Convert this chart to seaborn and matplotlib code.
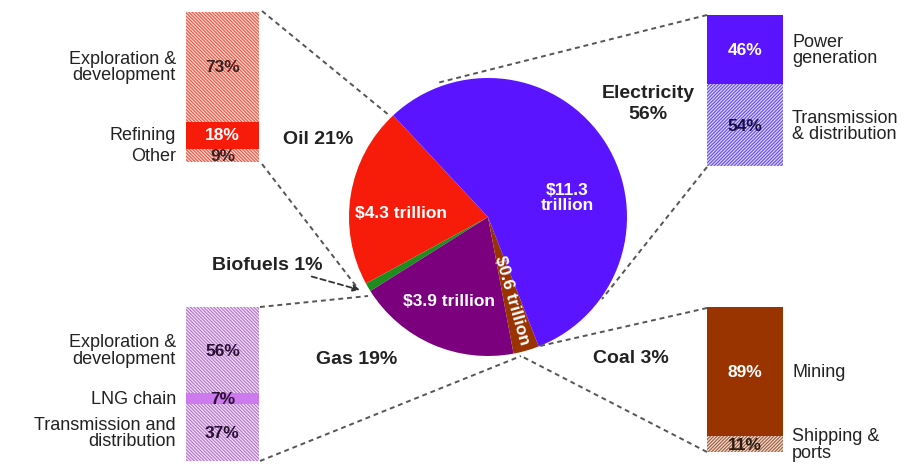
import numpy as np
import pandas as pd
import matplotlib
matplotlib.use("Agg")
import matplotlib.pyplot as plt
import seaborn as sns

# ---- data -------------------------------------------------------------
sectors = ["Oil", "Biofuels", "Gas", "Coal", "Electricity"]
sector_share = [21, 1, 19, 3, 56]
sector_value = ["$4.3 trillion", "", "$3.9 trillion", "$0.6 trillion", "$11.3\ntrillion"]
sector_colors = ["#F71C0A", "#1E8C1E", "#7A007E", "#993300", "#5A14FF"]

oil_parts = ["Exploration &\ndevelopment", "Refining", "Other"]
oil_share = [73, 18, 9]
elec_parts = ["Power\ngeneration", "Transmission\n& distribution"]
elec_share = [46, 54]
gas_parts = ["Exploration &\ndevelopment", "LNG chain", "Transmission and\ndistribution"]
gas_share = [56, 7, 37]
coal_parts = ["Mining", "Shipping &\nports"]
coal_share = [89, 11]

# ---- figure ------------------------------------------------------------
W, H = 907, 477
sns.set_theme(style="white")
plt.rcParams["font.family"] = ["Liberation Sans Narrow", "Liberation Sans", "DejaVu Sans"]
plt.rcParams["hatch.linewidth"] = 0.9

fig = plt.figure(figsize=(W / 100, H / 100), dpi=100)
fig.patch.set_facecolor("white")
ax = fig.add_axes([0, 0, 1, 1])


def Y(y):
    # image row -> axes y (y up)
    return H - y


cx, cy, r = 488, Y(218), 139
wedges, _ = ax.pie(sector_share, colors=sector_colors, startangle=133,
                   counterclock=True, center=(cx, cy), radius=r,
                   wedgeprops=dict(linewidth=0))
ax.set_xlim(0, W)
ax.set_ylim(0, H)
ax.set_aspect("equal")
ax.axis("off")

# values inside the wedges: (radius fraction, angle override or None, rotate)
inner_pos = {"Oil": (0.63, 177, False), "Gas": (0.66, 245, False),
             "Coal": (0.62, None, True), "Electricity": (0.59, 14, False)}
for w, name, val in zip(wedges, sectors, sector_value):
    if not val:
        continue
    frac, ang, rot = inner_pos[name]
    mid = (w.theta1 + w.theta2) / 2 if ang is None else ang
    x = cx + frac * r * np.cos(np.radians(mid))
    y = cy + frac * r * np.sin(np.radians(mid))
    ax.text(x, y, val, color="white", fontsize=12.5, fontweight="bold",
            ha="center", va="center", rotation=mid if rot else 0,
            rotation_mode="anchor", linespacing=1.0)

# sector labels round the pie
lab_kw = dict(fontsize=14, fontweight="bold", color="#222222", ha="center", va="center")
ax.text(318, Y(140), "Oil 21%", **lab_kw)
ax.text(648, Y(104), "Electricity\n56%", linespacing=1.3, **lab_kw)
ax.text(357, Y(360), "Gas 19%", **lab_kw)
ax.text(631, Y(359), "Coal 3%", **lab_kw)
ax.annotate("Biofuels 1%", xy=(360, Y(291)), xytext=(322, Y(265)),
            fontsize=14, fontweight="bold", color="#222222", ha="right", va="center",
            arrowprops=dict(arrowstyle="-|>", color="#333333", lw=1.3, ls=(0, (3, 2)),
                            mutation_scale=10, shrinkA=2, shrinkB=0))

# dashed connectors
dash = dict(color="#555555", lw=1.4, ls=(0, (2.5, 2)))
connectors = [((262, 12), (390, 117)), ((262, 165), (356, 287)),
              ((707, 16), (437, 84)), ((707, 168), (602, 300)),
              ((260, 308), (368, 297)), ((260, 462), (521, 357)),
              ((707, 309), (540, 347)), ((707, 453), (521, 357))]
for (x0, y0), (x1, y1) in connectors:
    ax.plot([x0, x1], [Y(y0), Y(y1)], **dash)


def stacked_bar(box, parts, shares, styles, side):
    x0, y0, x1, y1 = box
    bax = fig.add_axes([x0 / W, 1 - y1 / H, (x1 - x0) / W, (y1 - y0) / H])
    df = pd.DataFrame({"part": parts, "share": shares})
    df["top"] = df["share"].cumsum()
    df["mid"] = df["top"] - df["share"] / 2
    # draw the tallest stack first, each shorter one sits over it
    for i in reversed(range(len(df))):
        face, hatch_col, hatch, txt_col = styles[i]
        sns.barplot(x=["bar"], y=[df["top"][i]], width=1.0, saturation=1,
                    color=face, ax=bax)
        p = bax.patches[-1]
        p.set_facecolor(face)
        p.set_linewidth(0)
        if hatch:
            p.set_edgecolor(hatch_col)
            p.set_hatch(hatch)
    bax.set_xlim(-0.5, 0.5)
    bax.set_ylim(100, 0)
    bax.axis("off")
    tr = bax.get_yaxis_transform()
    for i, row in df.iterrows():
        txt_col = styles[i][3]
        bax.text(0, row["mid"], f"{row['share']}%", color=txt_col, fontsize=12.5,
                 fontweight="bold", ha="center", va="center")
        if side == "left":
            bax.text(-0.14, row["mid"], row["part"], transform=tr, fontsize=13,
                     color="#222222", ha="right", va="center", linespacing=0.95)
        else:
            bax.text(1.12, row["mid"], row["part"], transform=tr, fontsize=13,
                     color="#222222", ha="left", va="center", linespacing=0.95)


oil_h = ("#FCE0DA", "#EE5A48", "\\" * 10, "#3A2020")
gas_h = ("#F5E6FB", "#B47ACD", "\\" * 10, "#2A1030")
elec_h = ("#E4DEFF", "#6A50EE", "/" * 10, "#1A1040")
coal_h = ("#F5E4DC", "#A2603E", "/" * 10, "#2A1A10")

stacked_bar((186, 13, 259, 163), oil_parts, oil_share,
            [oil_h, ("#F71C0A", None, None, "white"), oil_h], "left")
stacked_bar((707, 16, 783, 167), elec_parts, elec_share,
            [("#5A14FF", None, None, "white"), elec_h], "right")
stacked_bar((186, 308, 259, 462), gas_parts, gas_share,
            [gas_h, ("#CC7AEE", None, None, "#2A1030"), gas_h], "left")
stacked_bar((707, 308, 783, 453), coal_parts, coal_share,
            [("#993300", None, None, "white"), coal_h], "right")

fig.savefig("out.png", dpi=100, facecolor="white")
